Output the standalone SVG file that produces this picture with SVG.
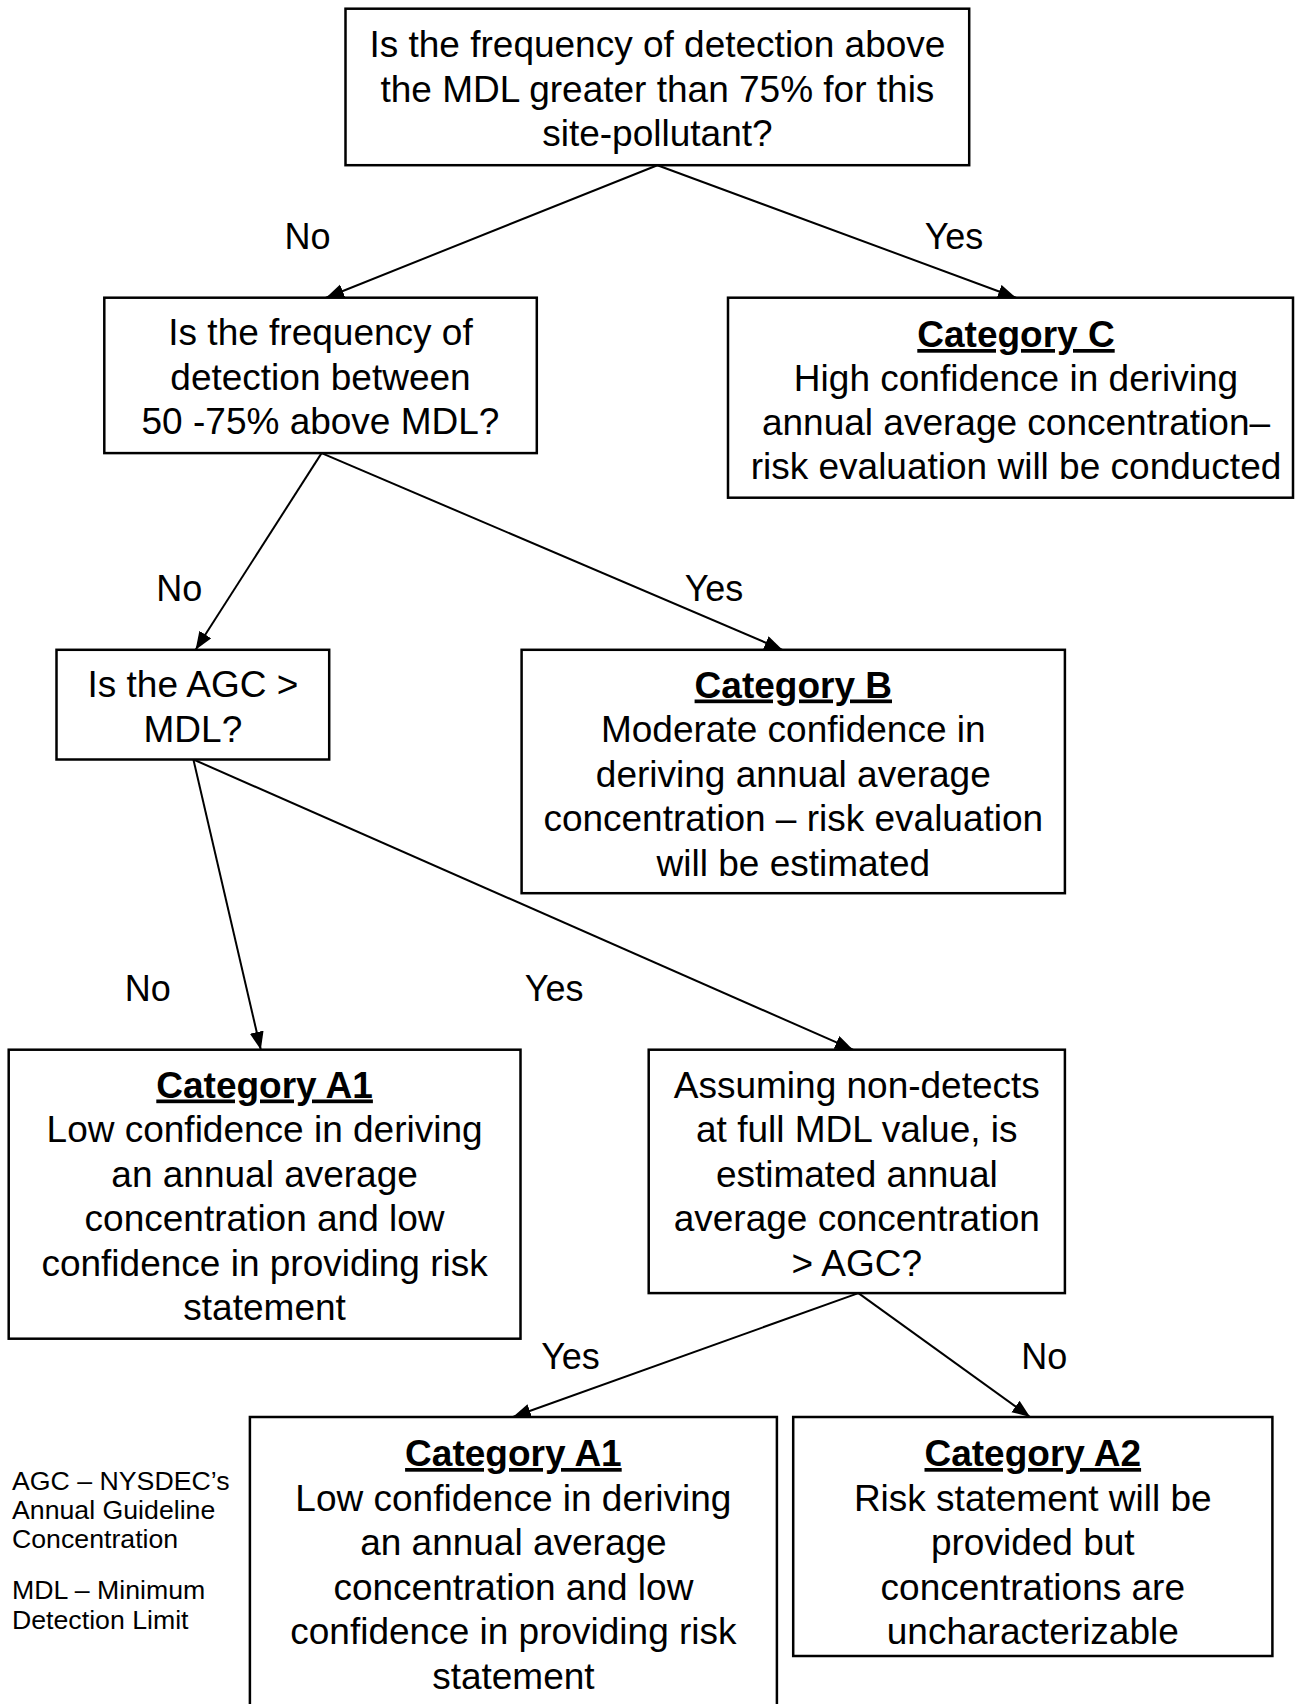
<svg xmlns="http://www.w3.org/2000/svg" width="1305" height="1704" viewBox="0 0 1305 1704">
<style>
.box{fill:#fff;stroke:#000;stroke-width:2.5}
.t{font-family:"Liberation Sans",Arial,sans-serif;font-size:37px;fill:#000;text-anchor:middle}
.h{font-weight:bold;text-decoration:underline;text-decoration-thickness:3px;text-underline-offset:4px}
.lbl{font-family:"Liberation Sans",Arial,sans-serif;font-size:36px;fill:#000;text-anchor:middle}
.leg{font-family:"Liberation Sans",Arial,sans-serif;font-size:26.7px;fill:#000}
.c{stroke:#000;stroke-width:2;fill:none;marker-end:url(#ah)}
</style>
<defs>
<marker id="ah" markerUnits="userSpaceOnUse" markerWidth="20" markerHeight="16" refX="18" refY="7" orient="auto">
<path d="M0,0 L18,7 L0,14 Z" fill="#000"/>
</marker>
</defs>
<rect width="1305" height="1704" fill="#fff"/>
<g id="connectors">
<line class="c" x1="657.4" y1="165.2" x2="326" y2="297.7"/>
<line class="c" x1="657.4" y1="165.2" x2="1016" y2="297.7"/>
<line class="c" x1="321.6" y1="453.1" x2="195.6" y2="649.8"/>
<line class="c" x1="321.6" y1="453.1" x2="782.4" y2="649.8"/>
<line class="c" x1="193.4" y1="759.5" x2="260.8" y2="1049.7"/>
<line class="c" x1="193.4" y1="759.5" x2="853" y2="1049.7"/>
<line class="c" x1="858.4" y1="1293.1" x2="512.9" y2="1417"/>
<line class="c" x1="858.4" y1="1293.1" x2="1030.1" y2="1417"/>
<text class="lbl" x="307.5" y="249">No</text>
<text class="lbl" x="954" y="249">Yes</text>
<text class="lbl" x="179.3" y="601">No</text>
<text class="lbl" x="714" y="601">Yes</text>
<text class="lbl" x="147.8" y="1001">No</text>
<text class="lbl" x="554.2" y="1001">Yes</text>
<text class="lbl" x="570.5" y="1369">Yes</text>
<text class="lbl" x="1044.2" y="1369">No</text>
</g>
<g id="q1">
<rect class="box" x="345.5" y="8.7" width="623.7" height="156.5"/>
<text class="t" x="657.4" y="57">Is the frequency of detection above</text>
<text class="t" x="657.4" y="101.5">the MDL greater than 75% for this</text>
<text class="t" x="657.4" y="146">site-pollutant?</text>
</g>
<g id="q2">
<rect class="box" x="104.3" y="297.7" width="432.5" height="155.4"/>
<text class="t" x="320.5" y="345">Is the frequency of</text>
<text class="t" x="320.5" y="389.5">detection between</text>
<text class="t" x="320.5" y="434">50 -75% above MDL?</text>
</g>
<g id="catC">
<rect class="box" x="728" y="297.7" width="565" height="200"/>
<text class="t h" x="1016" y="347">Category C</text>
<text class="t" x="1016" y="391">High confidence in deriving</text>
<text class="t" x="1016" y="435">annual average concentration–</text>
<text class="t" x="1016" y="479">risk evaluation will be conducted</text>
</g>
<g id="q3">
<rect class="box" x="56.5" y="649.8" width="272.7" height="109.7"/>
<text class="t" x="192.9" y="697">Is the AGC &gt;</text>
<text class="t" x="192.9" y="741.5">MDL?</text>
</g>
<g id="catB">
<rect class="box" x="521.6" y="649.8" width="543.3" height="243.4"/>
<text class="t h" x="793.3" y="697.5">Category B</text>
<text class="t" x="793.3" y="742">Moderate confidence in</text>
<text class="t" x="793.3" y="786.5">deriving annual average</text>
<text class="t" x="793.3" y="831">concentration – risk evaluation</text>
<text class="t" x="793.3" y="875.5">will be estimated</text>
</g>
<g id="catA1a">
<rect class="box" x="8.7" y="1049.7" width="511.8" height="289"/>
<text class="t h" x="264.6" y="1097.5">Category A1</text>
<text class="t" x="264.6" y="1142">Low confidence in deriving</text>
<text class="t" x="264.6" y="1186.5">an annual average</text>
<text class="t" x="264.6" y="1231">concentration and low</text>
<text class="t" x="264.6" y="1275.5">confidence in providing risk</text>
<text class="t" x="264.6" y="1320">statement</text>
</g>
<g id="q4">
<rect class="box" x="648.7" y="1049.7" width="416.2" height="243.4"/>
<text class="t" x="856.8" y="1097.5">Assuming non-detects</text>
<text class="t" x="856.8" y="1142">at full MDL value, is</text>
<text class="t" x="856.8" y="1186.5">estimated annual</text>
<text class="t" x="856.8" y="1231">average concentration</text>
<text class="t" x="856.8" y="1275.5">&gt; AGC?</text>
</g>
<g id="catA1b">
<rect class="box" x="249.9" y="1417" width="527" height="310"/>
<text class="t h" x="513.4" y="1466">Category A1</text>
<text class="t" x="513.4" y="1510.5">Low confidence in deriving</text>
<text class="t" x="513.4" y="1555">an annual average</text>
<text class="t" x="513.4" y="1599.5">concentration and low</text>
<text class="t" x="513.4" y="1644">confidence in providing risk</text>
<text class="t" x="513.4" y="1688.5">statement</text>
</g>
<g id="catA2">
<rect class="box" x="793.2" y="1417" width="479.2" height="239"/>
<text class="t h" x="1032.8" y="1466">Category A2</text>
<text class="t" x="1032.8" y="1510.5">Risk statement will be</text>
<text class="t" x="1032.8" y="1555">provided but</text>
<text class="t" x="1032.8" y="1599.5">concentrations are</text>
<text class="t" x="1032.8" y="1644">uncharacterizable</text>
</g>
<g id="legend">
<text class="leg" x="12" y="1490">AGC – NYSDEC’s</text>
<text class="leg" x="12" y="1518.5">Annual Guideline</text>
<text class="leg" x="12" y="1548">Concentration</text>
<text class="leg" x="12" y="1599">MDL – Minimum</text>
<text class="leg" x="12" y="1628.5">Detection Limit</text>
</g>
</svg>
